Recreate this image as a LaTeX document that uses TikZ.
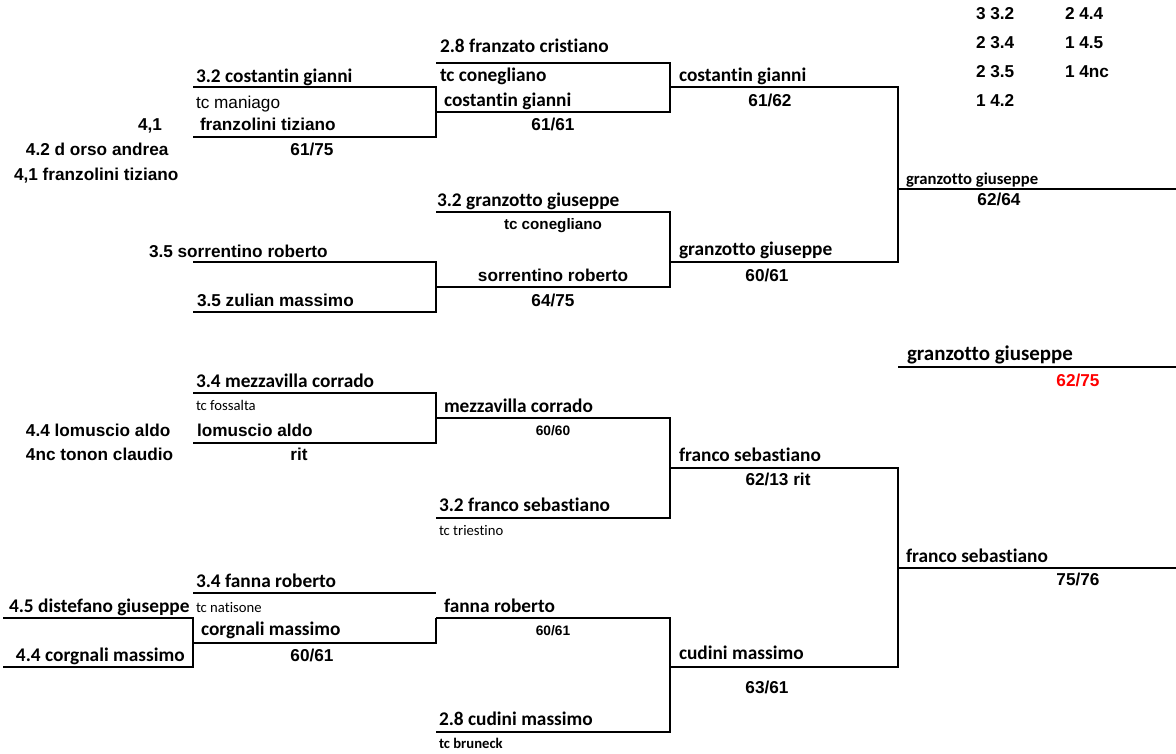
\documentclass[tikz,border=0pt]{standalone}
\usepackage{fontspec}
\newfontfamily\calib[Ligatures={NoCommon}]{Carlito}
\newfontfamily\arial{Liberation Sans}

\begin{document}
\begin{tikzpicture}[x=0.75pt,y=-0.75pt,line width=1.5pt,
  cal/.style={inner sep=0pt,anchor=base west,font=\calib\bfseries\fontsize{14.5}{17}\selectfont},
  tcs/.style={inner sep=0pt,anchor=base west,font=\calib\fontsize{11}{13}\selectfont},
  ari/.style={inner sep=0pt,anchor=base west,font=\arial\bfseries\fontsize{12.9}{15}\selectfont},
  res/.style={ari,anchor=base},
  ressm/.style={res,font=\arial\bfseries\fontsize{10.3}{12}\selectfont}]
\useasboundingbox (0,0) rectangle (1176,753);
% brackets: left x / right x / top y / bottom y
\foreach \xa/\xb/\ya/\yb in {193/436/87/137, 193/436/262/312, 193/436/393/443,
    3/193/618/667, 436/670/63/112, 436/670/212/287, 436/670/418/518,
    436/670/618/732, 670/898/87/262, 670/898/468/667} {
  \draw (\xa,\ya) -| (\xb,\yb) -- (\xa,\yb);
}
\draw (193,593) -- (436,593);
\draw (193,643) -| (436,618);
% winners
\foreach \y in {189, 367, 568} {
  \draw (898,\y) -- (1176,\y);
}

% top half
\node[ari,anchor=base east] (s41) at (163,130) {4,1};
\node[ari] (dorso) at (25,155) {4.2 d orso andrea};
\node[ari] (franzq) at (13,180) {4,1 franzolini tiziano};
\node[cal] (costa1) at (195,82) {3.2 costantin gianni};
\node[ari,font=\arial\fontsize{12.9}{15}\selectfont] (maniago) at (195,108) {tc maniago};
\node[ari] (franz) at (199,130) {franzolini tiziano};
\node[res] (r1) at (312,155) {61/75};
\node[cal] (franzato) at (439,52) {2.8 franzato cristiano};
\node[cal] (coneg1) at (439,81) {tc conegliano};
\node[cal] (costa2) at (443,106) {costantin gianni};
\node[res] (r2) at (553,130) {61/61};
\node[cal] (costa3) at (678,81) {costantin gianni};
\node[res] (r3) at (770,106) {61/62};

\node[ari] (sorr1) at (148,257) {3.5 sorrentino roberto};
\node[ari] (zulian) at (196,306) {3.5 zulian massimo};
\node[cal] (granz1) at (436,206) {3.2 granzotto giuseppe};
\node[res,font=\arial\bfseries\fontsize{11.4}{13}\selectfont] (coneg2) at (553,229) {tc conegliano};
\node[res] (sorr2) at (553,281) {sorrentino roberto};
\node[res] (r4) at (553,306) {64/75};
\node[cal] (granz2) at (678,255) {granzotto giuseppe};
\node[res] (r5) at (767,281) {60/61};
\node[cal,font=\calib\bfseries\fontsize{12.5}{15}\selectfont] (granz3) at (905,184) {granzotto giuseppe};
\node[res] (r6) at (999,205) {62/64};

% seeds
\node[ari] (k1) at (975,19) {3 3.2};
\node[ari] (k2) at (1064,19) {2 4.4};
\node[ari] (k3) at (975,48) {2 3.4};
\node[ari] (k4) at (1064,48) {1 4.5};
\node[ari] (k5) at (975,77) {2 3.5};
\node[ari] (k6) at (1064,77) {1 4nc};
\node[ari] (k7) at (975,106) {1 4.2};

% final
\node[cal,font=\calib\bfseries\fontsize{15.7}{18}\selectfont] (champ) at (906,360) {granzotto giuseppe};
\node[res,red] (rf) at (1078,386) {62/75};

% bottom half
\node[ari] (lom1) at (25,436) {4.4 lomuscio aldo};
\node[ari] (tonon) at (25,460) {4nc tonon claudio};
\node[cal] (mezz1) at (195,387) {3.4 mezzavilla corrado};
\node[tcs] (fossalta) at (195,410) {tc fossalta};
\node[ari] (lom2) at (196,436) {lomuscio aldo};
\node[res] (r7) at (299,460) {rit};
\node[cal] (mezz2) at (443,412) {mezzavilla corrado};
\node[ressm] (r8) at (553,435) {60/60};
\node[cal] (fra1) at (438,511) {3.2 franco sebastiano};
\node[tcs] (triest) at (438,535) {tc triestino};
\node[cal] (fra2) at (678,461) {franco sebastiano};
\node[res] (r9) at (778,485) {62/13 rit};
\node[cal] (fra3) at (905,562) {franco sebastiano};
\node[res] (r10) at (1078,585) {75/76};

\node[cal] (fanna1) at (195,587) {3.4 fanna roberto};
\node[cal] (dist) at (8,612) {4.5 distefano giuseppe};
\node[tcs] (natis) at (195,612) {tc natisone};
\node[cal] (corg1) at (200,635) {corgnali massimo};
\node[cal] (corg2) at (15,661) {4.4 corgnali massimo};
\node[res] (r11) at (312,661) {60/61};
\node[cal] (fanna2) at (443,612) {fanna roberto};
\node[ressm] (r12) at (553,635) {60/61};
\node[cal] (cud1) at (438,725) {2.8 cudini massimo};
\node[tcs,font=\calib\bfseries\fontsize{11}{13}\selectfont] (bruneck) at (438,748) {tc bruneck};
\node[cal] (cud2) at (678,659) {cudini massimo};
\node[res] (r13) at (767,693) {63/61};
\end{tikzpicture}
\end{document}
